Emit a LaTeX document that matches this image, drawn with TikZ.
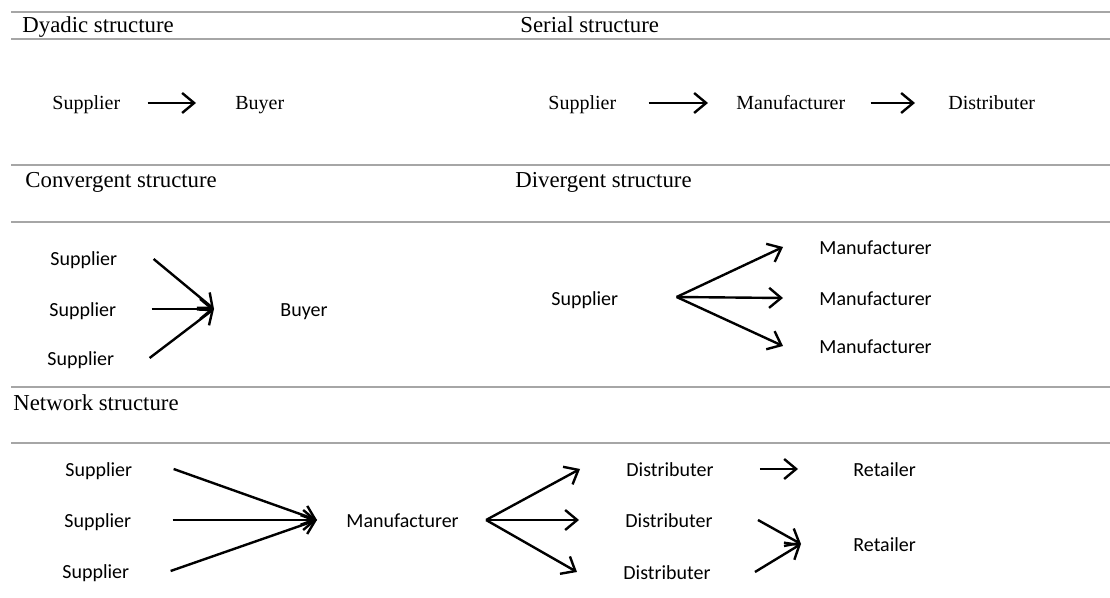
\documentclass[tikz,border=0pt]{standalone}
\usepackage{fontspec}
\setmainfont{Liberation Serif}
\newfontfamily\calibri{Carlito}
\usetikzlibrary{arrows.meta,calc}

\begin{document}
\begin{tikzpicture}[x=0.5pt,y=-0.5pt,
    rule/.style={draw=black!35,line width=0.7pt},
    head/.style={anchor=base west,inner sep=0pt,font=\fontsize{11.4}{13}\selectfont},
    lab/.style={anchor=base west,inner sep=0pt,font=\fontsize{10}{12}\selectfont},
    slab/.style={anchor=base west,inner sep=0pt,font=\calibri\fontsize{10}{12}\selectfont},
    arr/.style={-{Straight Barb[length=6pt,width=10pt]},line width=1.2pt}]
  \useasboundingbox (0,0) rectangle (1110,598);

  % grey rules
  \foreach \y in {12,39,165,222,387,443}
    \draw[rule] (11,\y) -- (1110,\y);

  % headings
  \node[head] (hdya) at (22,33) {Dyadic structure};
  \node[head] (hser) at (520,33) {Serial structure};
  \node[head] (hcon) at (25,188) {Convergent structure};
  \node[head] (hdiv) at (515,188) {Divergent structure};
  \node[head] (hnet) at (13,411) {Network structure};

  % dyadic
  \node[lab] (dsup) at (52,110) {Supplier};
  \node[lab] (dbuy) at (235,110) {Buyer};
  \draw[arr] ($(dsup.base east)+(27,-7)$) -- ($(dbuy.base west)+(-39,-7)$);

  % serial
  \node[lab] (ssup) at (548,110) {Supplier};
  \node[lab] (sman) at (736,110) {Manufacturer};
  \node[lab] (sdis) at (948,110) {Distributer};
  \draw[arr] ($(ssup.base east)+(32,-7)$) -- ($(sman.base west)+(-28,-7)$);
  \draw[arr] ($(sman.base east)+(25,-7)$) -- ($(sdis.base west)+(-33,-7)$);

  % convergent
  \node[slab] (cs1) at (50,266) {Supplier};
  \node[slab] (cs2) at (49,317) {Supplier};
  \node[slab] (cs3) at (47,366) {Supplier};
  \node[slab] (cbuy) at (280,317) {Buyer};
  \coordinate (cv) at ($(cbuy.base west)+(-66,-8)$);
  \draw[arr] ($(cs1.base east)+(36,-7)$) -- (cv);
  \draw[arr] ($(cs2.base east)+(35,-8)$) -- (cv);
  \draw[arr] ($(cs3.base east)+(35,-8)$) -- (cv);

  % divergent
  \node[slab] (dvs) at (551,306) {Supplier};
  \node[slab] (dvm1) at (819,255) {Manufacturer};
  \node[slab] (dvm2) at (819,306) {Manufacturer};
  \node[slab] (dvm3) at (819,354) {Manufacturer};
  \coordinate (dv) at ($(dvs.base east)+(58,-9)$);
  \foreach \m in {dvm1,dvm2,dvm3}
    \draw[arr] (dv) -- ($(\m.base west)+(-36,-8)$);

  % network
  \node[slab] (ns1) at (65,477) {Supplier};
  \node[slab] (ns2) at (64,528) {Supplier};
  \node[slab] (ns3) at (62,579) {Supplier};
  \node[slab] (nman) at (346,528) {Manufacturer};
  \coordinate (nin) at ($(nman.base west)+(-29,-8)$);
  \foreach \s in {ns1,ns2,ns3}
    \draw[arr] ($(\s.base east)+(41,-8)$) -- (nin);
  \node[slab] (nd1) at (626,477) {Distributer};
  \node[slab] (nd2) at (625,528) {Distributer};
  \node[slab] (nd3) at (623,580) {Distributer};
  \coordinate (nout) at ($(nman.base east)+(27,-8)$);
  \foreach \d in {nd1,nd2,nd3}
    \draw[arr] (nout) -- ($(\d.base west)+(-46,-8)$);
  \node[slab] (nr1) at (853,477) {Retailer};
  \node[slab] (nr2) at (853,552) {Retailer};
  \draw[arr] ($(nd1.base east)+(46,-8)$) -- ($(nr1.base west)+(-55,-8)$);
  \coordinate (nrin) at ($(nr2.base west)+(-52,-8)$);
  \draw[arr] ($(nd2.base east)+(45,-8)$) -- (nrin);
  \draw[arr] ($(nd3.base east)+(44,-8)$) -- (nrin);
\end{tikzpicture}
\end{document}
